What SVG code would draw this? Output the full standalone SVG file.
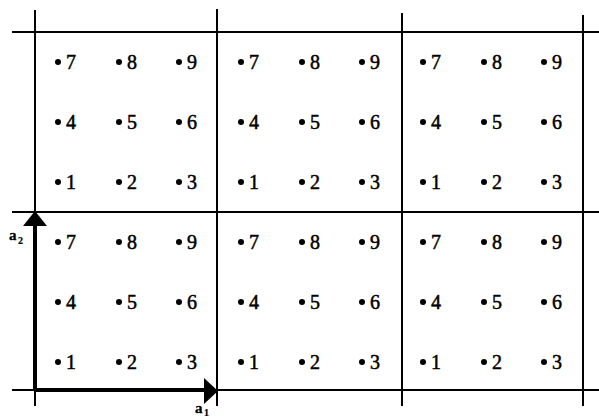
<svg xmlns="http://www.w3.org/2000/svg" width="599" height="419" viewBox="0 0 599 419">
<style>
.g{stroke:#000;stroke-width:2;fill:none}
.v{stroke:#000;stroke-width:4;fill:none}
.d{fill:#000}
text{font-family:"Liberation Serif","Times New Roman",serif;font-size:20px;fill:#000;stroke:#000;stroke-width:0.5}
.lab{font-weight:bold;font-size:15px;stroke-width:0.3}
.sub{font-weight:bold;font-size:10px;stroke-width:0.2}
</style>
<defs>
<g id="cell">
<circle class="d" cx="23" cy="30" r="3"/><text x="31" y="37">7</text>
<circle class="d" cx="84" cy="30" r="3"/><text x="92" y="37">8</text>
<circle class="d" cx="144" cy="30" r="3"/><text x="152" y="37">9</text>
<circle class="d" cx="23" cy="90" r="3"/><text x="31" y="97">4</text>
<circle class="d" cx="84" cy="90" r="3"/><text x="92" y="97">5</text>
<circle class="d" cx="144" cy="90" r="3"/><text x="152" y="97">6</text>
<circle class="d" cx="23" cy="150" r="3"/><text x="31" y="157">1</text>
<circle class="d" cx="84" cy="150" r="3"/><text x="92" y="157">2</text>
<circle class="d" cx="144" cy="150" r="3"/><text x="152" y="157">3</text>
</g>
</defs>
<g id="grid">
<line class="g" x1="12" y1="32" x2="599" y2="32"/>
<line class="g" x1="12" y1="212" x2="599" y2="212"/>
<line class="g" x1="12" y1="390" x2="599" y2="390"/>
<line class="g" x1="35" y1="10" x2="35" y2="406"/>
<line class="g" x1="217" y1="9" x2="217" y2="406"/>
<line class="g" x1="402" y1="13" x2="402" y2="406"/>
<line class="g" x1="583" y1="15" x2="583" y2="406"/>
</g>
<g id="cell-top-1"><use href="#cell" x="35" y="32"/></g>
<g id="cell-top-2"><use href="#cell" x="218" y="32"/></g>
<g id="cell-top-3"><use href="#cell" x="400" y="32"/></g>
<g id="cell-bot-1"><use href="#cell" x="35" y="212"/></g>
<g id="cell-bot-2"><use href="#cell" x="218" y="212"/></g>
<g id="cell-bot-3"><use href="#cell" x="400" y="212"/></g>
<g id="connectors">
<line class="v" x1="35" y1="390" x2="35" y2="224"/>
<polygon points="35,211 23,226 47,226" fill="#000"/>
<line class="v" x1="35" y1="390" x2="206" y2="390"/>
<polygon points="218,391 204,378 204,404" fill="#000"/>
</g>
<g id="label-a2"><text class="lab" x="9" y="240">a</text><text class="sub" x="18" y="244">2</text></g>
<g id="label-a1"><text class="lab" x="195" y="413">a</text><text class="sub" x="204" y="416">1</text></g>
</svg>
